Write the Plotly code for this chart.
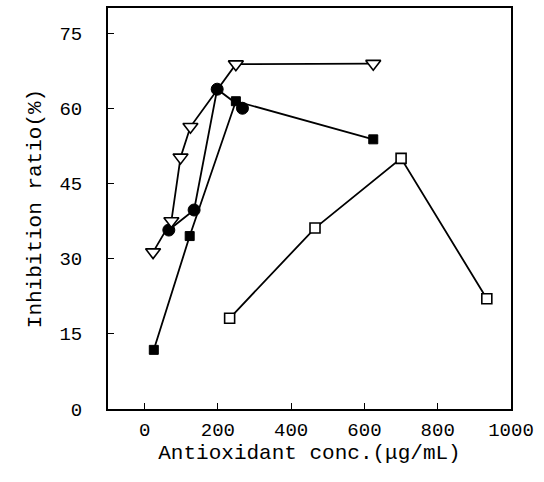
import plotly.graph_objects as go

# Data
tri_x = [23, 73, 98, 125, 249, 624]
tri_y = [31.3, 37.5, 50.2, 56.3, 68.8, 68.9]

circ_x = [66, 135, 198, 267]
circ_y = [35.7, 39.7, 63.8, 60.0]

fsq_x = [25, 123, 249, 624]
fsq_y = [11.8, 34.5, 61.4, 53.8]

osq_x = [232, 465, 700, 934]
osq_y = [18.1, 36.1, 50.0, 22.0]

x_ticks = [0, 200, 400, 600, 800, 1000]
y_ticks = [0, 15, 30, 45, 60, 75]

FONT = "Liberation Mono"

fig = go.Figure()
line = dict(color="black", width=1.8)

fig.add_trace(go.Scatter(x=osq_x, y=osq_y, mode="lines+markers", line=line,
                         marker=dict(symbol="square", size=10, color="white",
                                     line=dict(color="black", width=1.6))))
fig.add_trace(go.Scatter(x=fsq_x, y=fsq_y, mode="lines+markers", line=line,
                         marker=dict(symbol="square", size=9, color="black",
                                     line=dict(color="black", width=1))))
fig.add_trace(go.Scatter(x=circ_x, y=circ_y, mode="lines+markers", line=line,
                         marker=dict(symbol="circle", size=12, color="black",
                                     line=dict(color="black", width=1))))
fig.add_trace(go.Scatter(x=tri_x, y=tri_y, mode="lines+markers", line=line,
                         marker=dict(symbol="triangle-down", size=13, color="white",
                                     line=dict(color="black", width=1.6))))

fig.update_layout(
    width=544, height=482,
    margin=dict(l=108, r=33, t=6, b=73),
    paper_bgcolor="white", plot_bgcolor="white",
    showlegend=False,
    font=dict(family=FONT, color="black", size=19),
)
fig.update_xaxes(
    range=[-100, 1000], tickvals=x_ticks, ticktext=[str(v) for v in x_ticks],
    ticks="inside", ticklen=6, tickwidth=1, tickcolor="black",
    showline=True, linecolor="black", linewidth=2, mirror=True,
    showgrid=False, zeroline=False,
    tickfont=dict(family=FONT, size=19), ticklabelstandoff=2,
    title=dict(text="Antioxidant conc.(\u03bcg/mL)", font=dict(family=FONT, size=21), standoff=4),
)
fig.update_yaxes(
    range=[0, 80], tickvals=y_ticks, ticktext=[str(v) for v in y_ticks],
    ticks="inside", ticklen=6, tickwidth=1, tickcolor="black",
    showline=True, linecolor="black", linewidth=2, mirror=True,
    showgrid=False, zeroline=False,
    tickfont=dict(family=FONT, size=19), ticklabelstandoff=20,
    title=dict(text="Inhibition ratio(%)", font=dict(family=FONT, size=21), standoff=12),
)

fig.write_html("out.html")
